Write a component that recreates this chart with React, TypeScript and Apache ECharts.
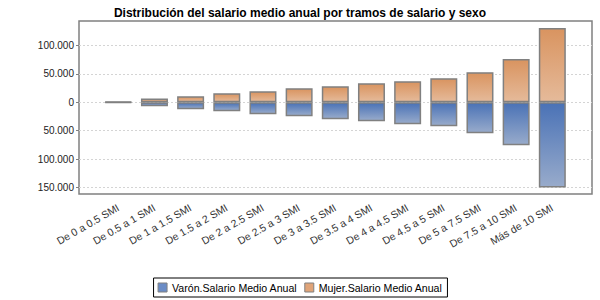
import React, { useEffect, useRef } from "react";
import * as echarts from "echarts";

const categories = [
  "De 0 a 0.5 SMI",
  "De 0.5 a 1 SMI",
  "De 1 a 1.5 SMI",
  "De 1.5 a 2 SMI",
  "De 2 a 2.5 SMI",
  "De 2.5 a 3 SMI",
  "De 3 a 3.5 SMI",
  "De 3.5 a 4 SMI",
  "De 4 a 4.5 SMI",
  "De 4.5 a 5 SMI",
  "De 5 a 7.5 SMI",
  "De 7.5 a 10 SMI",
  "Más de 10 SMI",
];
const mujer = [1200, 6400, 10600, 15900, 19400, 24700, 28200, 33500, 37100, 42400, 53000, 75900, 130600];
const varon = [-1300, -7000, -12400, -15900, -21200, -24700, -30000, -33500, -38800, -42400, -54700, -75900, -150000];
const yTicks = [-150000, -100000, -50000, 0, 50000, 100000];
const seriesNames = ["Varón.Salario Medio Anual", "Mujer.Salario Medio Anual"];
const title = "Distribución del salario medio anual por tramos de salario y sexo";

const Y_MIN = -161500;
const Y_MAX = 143000;

function fmt(v: number): string {
  const a = Math.abs(v);
  return String(a).replace(/\B(?=(\d{3})+(?!\d))/g, ".");
}

export default function App() {
  const ref = useRef<HTMLDivElement>(null);
  useEffect(() => {
    if (!ref.current) return;
    const chart = echarts.init(ref.current, null, { renderer: "svg" });
    const font = "'Liberation Sans', Arial, sans-serif";
    const border = { borderColor: "#808080", borderWidth: 1.5 };
    chart.setOption({
      animation: false,
      textStyle: { fontFamily: font },
      title: {
        text: title,
        left: "center",
        top: 2,
        textStyle: { fontSize: 12, fontWeight: "bold", color: "#000", fontFamily: font },
      },
      legend: {
        bottom: 3,
        left: "center",
        borderColor: "#000",
        borderWidth: 1,
        padding: [4, 5, 4, 4],
        itemGap: 7,
        itemWidth: 9,
        itemHeight: 9,
        icon: "rect",
        textStyle: { fontSize: 10.6, color: "#000", fontFamily: font },
        data: [
          { name: seriesNames[0], itemStyle: { color: "#6a8cc6", borderColor: "#808080", borderWidth: 1 } },
          { name: seriesNames[1], itemStyle: { color: "#e0a478", borderColor: "#808080", borderWidth: 1 } },
        ],
      },
      grid: [
        { left: 79, right: 8, top: 21, bottom: 106, show: true, borderColor: "#808080", borderWidth: 1.5, backgroundColor: "transparent" },
        { left: 100.2, right: 29.6, top: 21, bottom: 106 },
      ],
      xAxis: [
        { type: "value", gridIndex: 0, show: false, min: 0, max: 1 },
        {
          type: "category",
          gridIndex: 1,
          data: categories,
          axisLine: { show: false },
          axisTick: { show: false },
          axisLabel: { rotate: 30, fontSize: 10.5, color: "#333", margin: 13, interval: 0, fontFamily: font },
        },
      ],
      yAxis: [
        {
          type: "value",
          gridIndex: 0,
          min: Y_MIN,
          max: Y_MAX,
          axisLine: { show: false },
          axisTick: { show: true, length: 3, lineStyle: { color: "#808080" }, customValues: yTicks },
          axisLabel: { fontSize: 10, color: "#222", margin: 5, customValues: yTicks, formatter: (v: number) => fmt(v), fontFamily: font },
          splitLine: { show: true, lineStyle: { color: "#d4d4d4", type: [2, 2], width: 1 } },
        },
        { type: "value", gridIndex: 1, min: Y_MIN, max: Y_MAX, show: false, splitLine: { show: false } },
      ],
      series: [
        {
          name: seriesNames[0],
          type: "bar",
          xAxisIndex: 1,
          yAxisIndex: 1,
          data: varon,
          barWidth: 27,
          barGap: "-100%",
          itemStyle: {
            ...border,
            color: new echarts.graphic.LinearGradient(0, 0, 0, 1, [
              { offset: 0, color: "#4a72b6" },
              { offset: 1, color: "#98abcb" },
            ]),
          },
        },
        {
          name: seriesNames[1],
          type: "bar",
          xAxisIndex: 1,
          yAxisIndex: 1,
          data: mujer,
          barWidth: 27,
          barGap: "-100%",
          itemStyle: {
            ...border,
            color: new echarts.graphic.LinearGradient(0, 0, 0, 1, [
              { offset: 0, color: "#d99460" },
              { offset: 1, color: "#e5ba9a" },
            ]),
          },
        },
      ],
    });
    return () => chart.dispose();
  }, []);
  return <div ref={ref} style={{ width: 600, height: 300, position: "absolute", left: 0, top: 0 }} />;
}
